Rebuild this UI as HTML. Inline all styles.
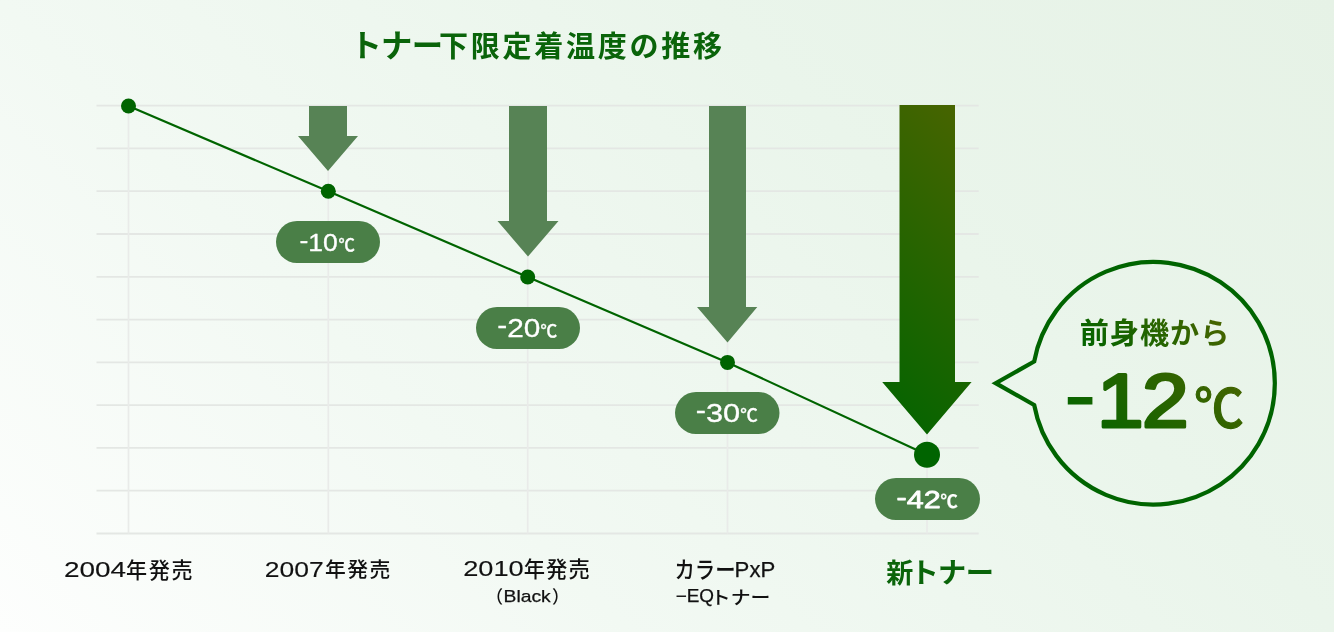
<!DOCTYPE html>
<html lang="ja">
<head>
<meta charset="utf-8">
<title>トナー下限定着温度の推移</title>
<style>
html,body{margin:0;padding:0;}
body{width:1334px;height:632px;overflow:hidden;position:relative;
  background:linear-gradient(45deg,#fdfefd 0%,#f2f9f3 32%,#eaf5eb 68%,#e6f2e6 100%);}
svg{position:absolute;left:0;top:0;display:block;}
svg text{font-family:"Liberation Sans","Noto Sans CJK JP",sans-serif;}
</style>
</head>
<body>
<svg width="1334" height="632" viewBox="0 0 1334 632">
  <defs>
    <linearGradient id="g1" gradientUnits="userSpaceOnUse" x1="822" y1="375" x2="1032" y2="165">
      <stop offset="0" stop-color="#006400"/>
      <stop offset="1" stop-color="#4a6400"/>
    </linearGradient>
    <linearGradient id="tg" gradientUnits="userSpaceOnUse" x1="1110" y1="376.5" x2="1197" y2="289.5">
      <stop offset="0" stop-color="#006400"/>
      <stop offset="1" stop-color="#4a6400"/>
    </linearGradient>
    <linearGradient id="tg2" gradientUnits="userSpaceOnUse" x1="1093.5" y1="461.5" x2="1216.5" y2="338.5">
      <stop offset="0" stop-color="#006400"/>
      <stop offset="1" stop-color="#4a6400"/>
    </linearGradient>
  </defs>
  <path stroke="#e4e7e4" stroke-width="1.8" fill="none" d="M96.5 105.6H978.7M96.5 148.4H978.7M96.5 191.2H978.7M96.5 234H978.7M96.5 276.8H978.7M96.5 319.6H978.7M96.5 362.3H978.7M96.5 405.1H978.7M96.5 447.9H978.7M96.5 490.7H978.7M96.5 533.5H978.7"/>
  <path stroke="#e9ebe9" stroke-width="1.7" fill="none" d="M128.5 105.6V533.5M328.3 105.6V533.5M527.7 105.6V533.5M727.5 105.6V533.5M927 105.6V533.5"/>
  <g fill="#578355">
    <path d="M309 106H347V136H358L328 171L298 136H309Z"/>
    <path d="M509 106H547V221H558.5L528 256.5L497.5 221H509Z"/>
    <path d="M709 106H746V307H757.3L727.5 342.6L697 307H709Z"/>
  </g>
  <path d="M899.5 105H955V382H971.6L927 434.5L882.2 382H899.5Z" fill="url(#g1)"/>
  <polyline points="128.5,106 328.3,191.3 527.7,277 727.5,362.4 927,454.7" fill="none" stroke="#006400" stroke-width="2.2"/>
  <g fill="#006400">
    <circle cx="128.5" cy="106" r="7.5"/>
    <circle cx="328.3" cy="191.3" r="7.5"/>
    <circle cx="527.7" cy="277" r="7.5"/>
    <circle cx="727.5" cy="362.4" r="7.5"/>
    <circle cx="927" cy="454.7" r="13"/>
  </g>
  <g fill="#4a7f47">
    <rect x="276" y="221" width="104" height="42" rx="21"/>
    <rect x="476" y="307" width="104" height="42" rx="21"/>
    <rect x="675" y="392" width="104.5" height="42" rx="21"/>
    <rect x="875" y="478" width="105" height="42" rx="21"/>
  </g>
  <path d="M1034.2 361.5A121.3 121.3 0 1 1 1034.2 405L995.7 383.2Z" fill="none" stroke="#006400" stroke-width="4.2" stroke-linejoin="miter" stroke-miterlimit="10"/>

  <text fill="#0a640a" font-weight="700"><tspan x="350.55" y="57.45" font-size="31.39" textLength="92.46" lengthAdjust="spacing">トナー</tspan><tspan x="439.05" y="57.05" font-size="29.07" textLength="283.02" lengthAdjust="spacing">下限定着温度の推移</tspan></text>
  <text x="1079.75" y="343.75" font-size="29.12" textLength="149.62" lengthAdjust="spacing" font-weight="700" fill="url(#tg)">前身機から</text>
  <text fill="url(#tg2)"><tspan x="1066.4" y="416" font-size="55.55" textLength="27.19" lengthAdjust="spacingAndGlyphs" stroke="url(#tg2)" stroke-width="3.2" stroke-linejoin="miter">-</tspan><tspan x="1097" y="427.25" font-size="76.67" textLength="46.65" lengthAdjust="spacingAndGlyphs" stroke="url(#tg2)" stroke-width="3.2" stroke-linejoin="round">1</tspan><tspan x="1142" y="427.25" font-size="76.67" textLength="46.65" lengthAdjust="spacingAndGlyphs" stroke="url(#tg2)" stroke-width="3.2" stroke-linejoin="round">2</tspan><tspan x="1194.15" y="427.5" font-size="53.29" textLength="49.43" lengthAdjust="spacingAndGlyphs" font-weight="500" stroke="url(#tg2)" stroke-width="1.2" stroke-linejoin="round">℃</tspan></text>
  <text fill="#fff"><tspan x="299.5" y="247.65" font-size="24.69" textLength="8.83" lengthAdjust="spacingAndGlyphs" stroke="#fff" stroke-width="0.3" stroke-linejoin="round">-</tspan><tspan x="308.33" y="250.65" font-size="24.69" textLength="29.5" lengthAdjust="spacingAndGlyphs" stroke="#fff" stroke-width="0.3" stroke-linejoin="round">10</tspan><tspan x="338.5" y="250.65" font-size="17.03" textLength="16.41" lengthAdjust="spacingAndGlyphs" font-weight="500" stroke="#fff" stroke-width="0.3" stroke-linejoin="round">℃</tspan></text>
  <text fill="#fff"><tspan x="497.35" y="333.65" font-size="26.37" textLength="9.93" lengthAdjust="spacingAndGlyphs" stroke="#fff" stroke-width="0.3" stroke-linejoin="round">-</tspan><tspan x="507.28" y="336.65" font-size="26.37" textLength="33.16" lengthAdjust="spacingAndGlyphs" stroke="#fff" stroke-width="0.3" stroke-linejoin="round">20</tspan><tspan x="540.55" y="336.65" font-size="17.51" textLength="16.7" lengthAdjust="spacingAndGlyphs" font-weight="500" stroke="#fff" stroke-width="0.3" stroke-linejoin="round">℃</tspan></text>
  <text fill="#fff"><tspan x="695.7" y="418.65" font-size="25.29" textLength="10.25" lengthAdjust="spacingAndGlyphs" stroke="#fff" stroke-width="0.3" stroke-linejoin="round">-</tspan><tspan x="705.95" y="421.65" font-size="25.29" textLength="34.23" lengthAdjust="spacingAndGlyphs" stroke="#fff" stroke-width="0.3" stroke-linejoin="round">30</tspan><tspan x="740.2" y="421.7" font-size="17.9" textLength="17.59" lengthAdjust="spacingAndGlyphs" font-weight="500" stroke="#fff" stroke-width="0.3" stroke-linejoin="round">℃</tspan></text>
  <text fill="#fff"><tspan x="896.6" y="504.65" font-size="24.34" textLength="10.16" lengthAdjust="spacingAndGlyphs" stroke="#fff" stroke-width="0.8" stroke-linejoin="round">-</tspan><tspan x="906.76" y="507.65" font-size="24.34" textLength="33.93" lengthAdjust="spacingAndGlyphs" stroke="#fff" stroke-width="0.8" stroke-linejoin="round">42</tspan><tspan x="940.45" y="507.85" font-size="17.8" textLength="17.27" lengthAdjust="spacingAndGlyphs" font-weight="700" stroke="#fff" stroke-width="0.2" stroke-linejoin="round">℃</tspan></text>
  <text fill="#111"><tspan x="63.95" y="577.25" font-size="21.53" textLength="62.25" lengthAdjust="spacingAndGlyphs" stroke="#111" stroke-width="0.12" stroke-linejoin="round">2004</tspan><tspan x="126" y="577.75" font-size="21.07" textLength="66.63" lengthAdjust="spacing" font-weight="500">年発売</tspan></text>
  <text fill="#111"><tspan x="264.8" y="576.75" font-size="21.46" textLength="58.93" lengthAdjust="spacingAndGlyphs" stroke="#111" stroke-width="0.12" stroke-linejoin="round">2007</tspan><tspan x="324.95" y="577.1" font-size="20.8" textLength="65.38" lengthAdjust="spacing" font-weight="500">年発売</tspan></text>
  <text fill="#111"><tspan x="463.15" y="575.9" font-size="21.46" textLength="60.55" lengthAdjust="spacingAndGlyphs" stroke="#111" stroke-width="0.12" stroke-linejoin="round">2010</tspan><tspan x="523.8" y="576.6" font-size="21.28" textLength="65.88" lengthAdjust="spacing" font-weight="500">年発売</tspan></text>
  <text fill="#111"><tspan x="485.57" y="602.55" font-size="17.61" font-weight="500">（</tspan><tspan x="503.5" y="602.25" font-size="16.6" textLength="47.25" lengthAdjust="spacingAndGlyphs" stroke="#111" stroke-width="0.25" stroke-linejoin="round">Black</tspan><tspan x="552.1" y="602.55" font-size="17.55" font-weight="500">）</tspan></text>
  <text fill="#111"><tspan x="674.4" y="577.7" font-size="23.13" textLength="61.14" lengthAdjust="spacingAndGlyphs" font-weight="500">カラー</tspan><tspan x="734.6" y="577.15" font-size="21.6" textLength="40.66" lengthAdjust="spacingAndGlyphs" stroke="#111" stroke-width="0.25" stroke-linejoin="round">PxP</tspan></text>
  <text fill="#111"><tspan x="675.65" y="602.35" font-size="17.6" textLength="38.38" lengthAdjust="spacingAndGlyphs" stroke="#111" stroke-width="0.25" stroke-linejoin="round">−EQ</tspan><tspan x="710.75" y="603.55" font-size="18" textLength="59.63" lengthAdjust="spacingAndGlyphs" font-weight="500">トナー</tspan></text>
  <text fill="#0a640a" font-weight="700"><tspan x="886.13" y="582.85" font-size="27.09">新</tspan><tspan x="910.55" y="583.35" font-size="28.27" textLength="83.36" lengthAdjust="spacing">トナー</tspan></text>
</svg>
</body>
</html>
